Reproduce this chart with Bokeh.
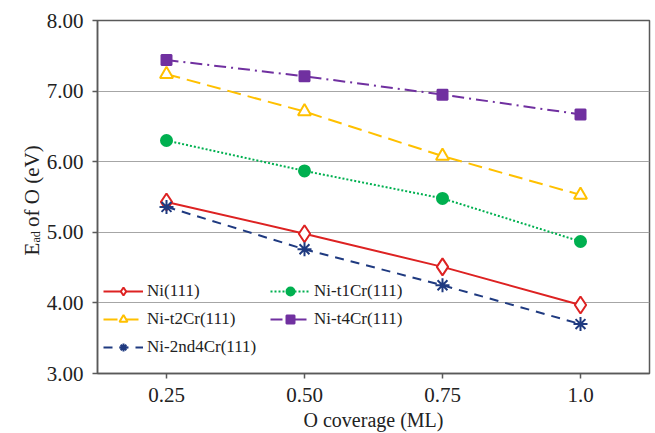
import math
from bokeh.plotting import figure
from bokeh.models import (FactorRange, Range1d, FixedTicker, NumeralTickFormatter,
                          Legend, LegendItem, Label)
from bokeh.embed import file_html
from bokeh.resources import INLINE

# ---- data ----
coverage = ["0.25", "0.50", "0.75", "1.0"]
ni_111 = [5.43, 4.98, 4.51, 3.97]
ni_t1cr = [6.30, 5.87, 5.48, 4.87]
ni_t2cr = [7.24, 6.71, 6.08, 5.53]
ni_t4cr = [7.44, 7.21, 6.95, 6.67]
ni_2nd4cr = [5.36, 4.76, 4.25, 3.70]
y_ticks = [3, 4, 5, 6, 7, 8]

FONT = "Liberation Serif"

p = figure(width=655, height=433, output_backend="svg", toolbar_location=None,
           x_range=FactorRange(*coverage, range_padding=0), y_range=Range1d(3, 8),
           min_border_left=97, min_border_right=6, min_border_top=20, min_border_bottom=60)

p.outline_line_color = "#595959"
p.outline_line_width = 1.5
p.xgrid.grid_line_color = None
p.ygrid.grid_line_color = "#a6a6a6"
p.ygrid.grid_line_width = 1.2

p.yaxis.ticker = FixedTicker(ticks=y_ticks)
p.yaxis.formatter = NumeralTickFormatter(format="0.00")
for ax in (p.xaxis[0], p.yaxis[0]):
    ax.axis_line_color = "#595959"
    ax.axis_line_width = 1.5
    ax.major_tick_line_color = "#595959"
    ax.major_tick_line_width = 1.5
    ax.major_tick_out = 5
    ax.major_tick_in = 0
    ax.minor_tick_line_color = None
    ax.major_label_text_font = FONT
    ax.major_label_text_font_size = "21px"
    ax.major_label_text_color = "#222222"
p.yaxis.major_label_standoff = 9
p.xaxis.major_label_standoff = 9
p.xaxis.axis_label = "O coverage (ML)"
p.xaxis.axis_label_text_font = FONT
p.xaxis.axis_label_text_font_style = "normal"
p.xaxis.axis_label_text_font_size = "20px"
p.xaxis.axis_label_text_color = "#222222"
p.xaxis.axis_label_standoff = 4

series = [
    ("Ni(111)", ni_111, "#dd2222", "solid", "diamond", "white", 17, 2),
    ("Ni-t1Cr(111)", ni_t1cr, "#00b050", "2 2", "circle", "#00b050", 11, 2),
    ("Ni-t2Cr(111)", ni_t2cr, "#ffc000", "14 7", "triangle", "white", 13, 2),
    ("Ni-t4Cr(111)", ni_t4cr, "#7030a0", "12 5 2 5", "square", "#7030a0", 10, 2),
    ("Ni-2nd4Cr(111)", ni_2nd4cr, "#1f3a80", "9 7", "asterisk", "#1f3a80", 14, 2),
]

items = {}
for name, vals, color, dash, marker, fill, size, lw in series:
    ln = p.line(coverage, vals, line_color=color, line_width=lw, line_dash=dash)
    sc = p.scatter(coverage, vals, marker=marker, size=size, line_color=color,
                   fill_color=fill, line_width=2)
    items[name] = LegendItem(label=name, renderers=[ln, sc])

def make_legend(names, loc):
    lg = Legend(items=[items[n] for n in names], location=loc, orientation="vertical",
                padding=0, margin=0, spacing=8, glyph_width=40, glyph_height=20,
                label_height=20, label_standoff=4, border_line_color=None,
                background_fill_alpha=0, label_text_font=FONT,
                label_text_font_size="17px", label_text_color="#222222")
    p.add_layout(lg, "center")

make_legend(["Ni(111)", "Ni-t2Cr(111)", "Ni-2nd4Cr(111)"], (6, 16))
make_legend(["Ni-t1Cr(111)", "Ni-t4Cr(111)"], (173, 44))

# y-axis label with subscript (canvas units, placed in the left panel)
def ylab(text, x, y, size):
    p.add_layout(Label(x=x, y=y, x_units="canvas", y_units="canvas", text=text,
                       angle=math.pi / 2, text_font=FONT, text_font_size=size,
                       text_color="#222222", text_align="left",
                       text_baseline="alphabetic"), "left")

ylab("E\u00a0\u00a0\u00a0of O (eV)", 31, 255, "21px")
ylab("ad", 35, 242, "12px")

open("out.html", "w").write(file_html(p, INLINE))
